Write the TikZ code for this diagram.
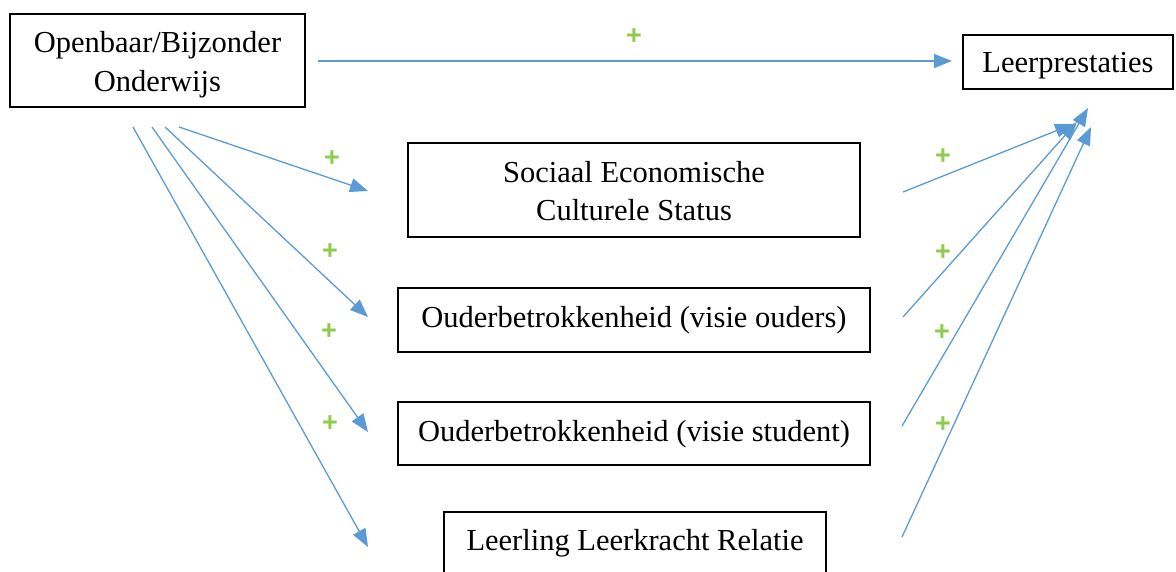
\documentclass[tikz,border=0pt]{standalone}
\usepackage{fontspec}
\setmainfont{Liberation Serif}
\newfontfamily\plusfont{Liberation Sans}
\usetikzlibrary{arrows.meta}
\definecolor{arrowblue}{HTML}{5B9BD5}
\definecolor{plusgreen}{HTML}{8DCB4A}
\tikzset{
  box/.style={draw=black, line width=2pt, fill=white, align=center, inner sep=0pt,
    font=\fontsize{30.5}{38.3}\selectfont},
  % text height/depth place the baseline inside each frame
  oneline/.style={text height=#1, text depth=0pt},
  twolines/.style={text height=#1+38.3pt, text depth=0pt},
  link/.style={draw=arrowblue, line width=1.3pt,
    -{Triangle[length=18pt,width=14pt]}},
  plus/.style={text=plusgreen, font=\plusfont\bfseries\fontsize{27}{27}\selectfont, inner sep=0pt}
}
\begin{document}
\begin{tikzpicture}[x=1pt,y=-1pt]
\useasboundingbox (0,0) rectangle (1176,571);
\clip (0,0) rectangle (1176,571);

% boxes
\node[box, twolines=23pt, minimum width=295pt, minimum height=93pt] (ob) at (157.5,60.5) {Openbaar/Bijzonder\\Onderwijs};
\node[box, oneline=22pt, minimum width=210pt, minimum height=54pt] (lp) at (1068,61.5) {Leerprestaties};
\node[box, twolines=23pt, minimum width=452pt, minimum height=94pt] (ses) at (634,190) {Sociaal Economische\\Culturele Status};
\node[box, oneline=15pt, minimum width=472pt, minimum height=64pt] (vo) at (634,319.5) {Ouderbetrokkenheid (visie ouders)};
\node[box, oneline=15pt, minimum width=472pt, minimum height=63pt] (vs) at (634,433.5) {Ouderbetrokkenheid (visie student)};
\node[box, oneline=12pt, minimum width=382pt, minimum height=64pt] (ll) at (635,544) {Leerling Leerkracht Relatie};

% free ends of the connectors
\coordinate (d0) at (318,61);   \coordinate (e0) at (952,61);
\coordinate (s1) at (179,127);  \coordinate (e1) at (368,191);
\coordinate (s2) at (165,127);  \coordinate (e2) at (368,317);
\coordinate (s3) at (152,127);  \coordinate (e3) at (368,432);
\coordinate (s4) at (133,127);  \coordinate (e4) at (368,547);
\coordinate (r1) at (903,192);  \coordinate (t1) at (1073,124);
\coordinate (r2) at (903,317);  \coordinate (t2) at (1077,122);
\coordinate (r3) at (902,426);  \coordinate (t3) at (1088,108);
\coordinate (r4) at (902,537);  \coordinate (t4) at (1091,127);

% connectors
\draw[link] (d0) -- (e0);
\draw[link] (s1) -- (e1);
\draw[link] (s2) -- (e2);
\draw[link] (s3) -- (e3);
\draw[link] (s4) -- (e4);
\draw[link] (r1) -- (t1);
\draw[link] (r2) -- (t2);
\draw[link] (r3) -- (t3);
\draw[link] (r4) -- (t4);

% signs
\node[plus] (p0) at (634,37) {+};
\node[plus] (p1) at (332,159) {+};
\node[plus] (p2) at (330,252) {+};
\node[plus] (p3) at (329,332) {+};
\node[plus] (p4) at (330,424) {+};
\node[plus] (p5) at (943,157) {+};
\node[plus] (p6) at (943,253) {+};
\node[plus] (p7) at (942,333) {+};
\node[plus] (p8) at (943,425) {+};
\end{tikzpicture}
\end{document}
